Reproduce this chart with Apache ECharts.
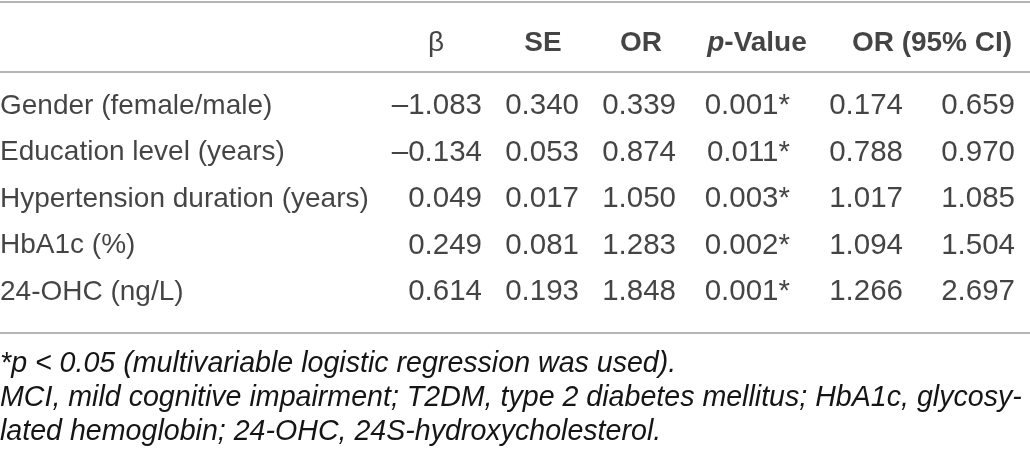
<html>
<head>
    <meta charset="utf-8" />
    <title>MCI regression table</title>
    <script src="https://cdn.jsdelivr.net/npm/echarts@6/dist/echarts.min.js"></script>
    <style>
        html, body { margin: 0; padding: 0; background: #fff; }
        #table { width: 1030px; height: 450px; }
    </style>
</head>
<body>
<div id="table"></div>
<script>
    // table data
    const rowLabels = ['Gender (female/male)', 'Education level (years)', 'Hypertension duration (years)', 'HbA1c (%)', '24-OHC (ng/L)'];
    const betaValues = [-1.083, -0.134, 0.049, 0.249, 0.614];
    const seValues = [0.340, 0.053, 0.017, 0.081, 0.193];
    const orValues = [0.339, 0.874, 1.050, 1.283, 1.848];
    const pValues = [0.001, 0.011, 0.003, 0.002, 0.001];
    const ciLower = [0.174, 0.788, 1.017, 1.094, 1.266];
    const ciUpper = [0.659, 0.970, 1.085, 1.504, 2.697];
    const headers = ['{n|β}', 'SE', 'OR', '{i|p}-Value', 'OR (95% CI)'];
    const footnotes = [
        '*p < 0.05 (multivariable logistic regression was used).',
        'MCI, mild cognitive impairment; T2DM, type 2 diabetes mellitus; HbA1c, glycosy-',
        'lated hemoglobin; 24-OHC, 24S-hydroxycholesterol.'
    ];

    // layout (x in px along the hidden x axis, y in row units)
    const colRight = [482, 579, 676, 790, 903, 1015];
    const headerCenter = [436, 543, 641, 757, 932];
    const headerRow = -1.355;
    const rules = [-2.237, -0.731, 4.882];
    const textColor = '#151515';
    const font = 'Liberation Sans';

    function fmt(v) {
        return (v < 0 ? '\u2013' : '') + Math.abs(v).toFixed(3);
    }

    let columns = [
        betaValues.map(fmt),
        seValues.map(fmt),
        orValues.map(fmt),
        pValues.map(v => fmt(v) + '*'),
        ciLower.map(fmt),
        ciUpper.map(fmt)
    ];

    let cells = [];
    rowLabels.forEach((name, r) => {
        cells.push({ value: [0, r], text: name, label: { align: 'left', fontSize: 28 } });
        columns.forEach((col, c) => {
            cells.push({ value: [colRight[c], r], text: col[r], label: { align: 'right' } });
        });
    });

    let headCells = headers.map((h, c) => ({ value: [headerCenter[c], headerRow], text: h }));

    let chart = echarts.init(document.getElementById('table'), null, { renderer: 'canvas' });

    chart.setOption({
        animation: false,
        title: footnotes.map((t, i) => ({
            text: t,
            left: 0,
            top: 349 + i * 34,
            padding: 0,
            textStyle: {
                fontFamily: font,
                fontStyle: 'italic',
                fontWeight: 'normal',
                fontSize: 28.6,
                lineHeight: 30,
                color: textColor
            }
        })),
        grid: { left: 0, right: 0, top: 0, bottom: 0 },
        xAxis: { type: 'value', min: 0, max: 1030, show: false },
        yAxis: { type: 'value', inverse: true, min: -2.28, max: 7.398, show: false },
        series: [
            {
                type: 'scatter',
                silent: true,
                clip: false,
                symbolSize: 0,
                data: cells,
                label: {
                    show: true,
                    position: 'inside',
                    verticalAlign: 'middle',
                    fontFamily: font,
                    fontSize: 29.5,
                    color: textColor,
                    formatter: p => p.data.text
                },
                markLine: {
                    silent: true,
                    symbol: 'none',
                    label: { show: false },
                    lineStyle: { color: '#9c9c9c', width: 1.5, type: 'solid' },
                    data: rules.map(v => ({ yAxis: v }))
                }
            },
            {
                type: 'scatter',
                silent: true,
                clip: false,
                symbolSize: 0,
                data: headCells,
                label: {
                    show: true,
                    position: 'inside',
                    align: 'center',
                    verticalAlign: 'middle',
                    fontFamily: font,
                    fontWeight: 'bold',
                    fontSize: 28,
                    color: textColor,
                    formatter: p => p.data.text,
                    rich: {
                        i: {
                            fontFamily: font,
                            fontWeight: 'bold',
                            fontStyle: 'italic',
                            fontSize: 28,
                            color: textColor
                        },
                        n: {
                            fontFamily: font,
                            fontWeight: 'normal',
                            fontSize: 28,
                            color: textColor
                        }
                    }
                }
            }
        ]
    });
</script>
</body>
</html>
